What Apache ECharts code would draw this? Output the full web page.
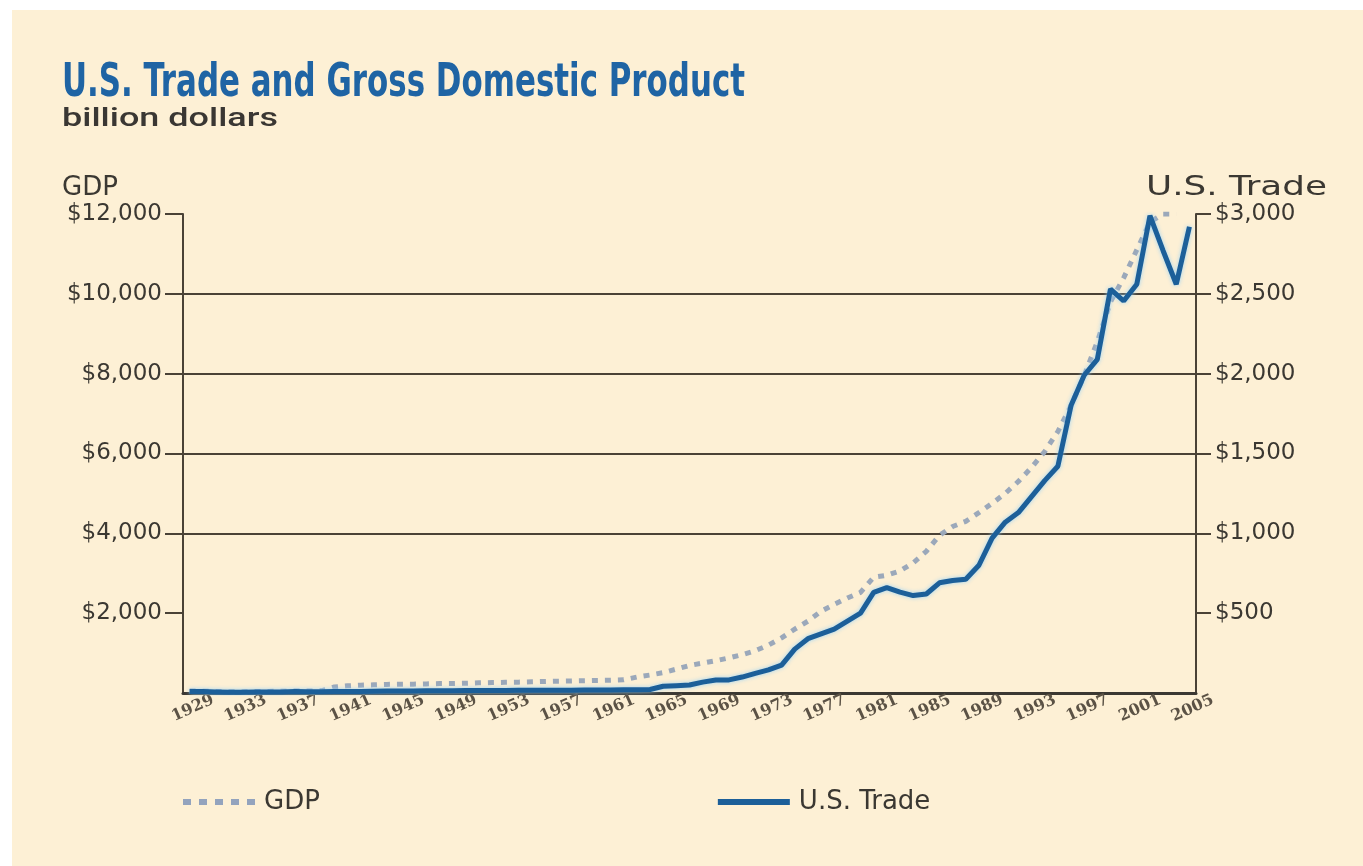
<!DOCTYPE html>
<html>
<head>
<meta charset="utf-8">
<script src="https://cdn.jsdelivr.net/npm/echarts@6/dist/echarts.min.js"></script>
<style>
html,body{margin:0;padding:0;background:#fff;}
#chart{width:1363px;height:866px;
background:linear-gradient(#fff,#fff) top left/100% 10px no-repeat,linear-gradient(#fff,#fff) top left/12px 100% no-repeat,#fdf0d5;}
</style>
</head>
<body>
<div id="chart"></div>
<script>
const years = ['1929','1930','1931','1932','1933','1934','1935','1936','1937','1938','1939',
'1940','1941','1942','1943','1944','1945','1946','1947','1948','1949',
'1950','1951','1952','1953','1954','1955','1956','1957','1958','1959',
'1960','1961','1962','1963','1964','1965','1966','1967','1968','1969',
'1970','1971','1972','1973','1974','1975','1976','1977','1978','1979',
'1980','1981','1982','1983','1984','1985','1986','1987','1988','1989',
'1990','1991','1992','1993','1994','1995','1996','1997','1998','1999',
'2000','2001','2002','2003','2004','2005'];

// GDP, billion dollars (left axis)
const gdp = [50,45,40,35,32,35,40,45,50,48,55,
150,180,195,205,215,220,222,228,235,238,
245,255,262,268,272,280,288,295,300,308,
315,320,330,400,450,510,600,690,750,810,
880,960,1060,1200,1380,1600,1800,2050,2220,2380,
2520,2900,2950,3060,3260,3550,3950,4170,4300,4520,
4750,5000,5300,5650,6050,6550,7200,7950,8800,9800,
10400,11100,11800,12000,12000,null];

// U.S. Trade, billion dollars (right axis)
const trade = [10,9,7,5,5,6,7,7,9,8,8,
9,10,10,11,12,12,13,14,14,14,
15,16,16,16,17,17,18,18,18,19,
19,19,20,20,22,42,46,50,68,81,
82,100,123,145,175,275,340,370,400,450,
500,630,660,632,610,620,690,705,712,800,
970,1070,1130,1230,1330,1420,1800,1990,2090,2530,
2455,2560,2990,2770,2560,2920];

const gdpTicks = [2000,4000,6000,8000,10000,12000];
const tradeTicks = [500,1000,1500,2000,2500,3000];

const ink = '#3b3832';
const gridInk = '#4a4236';
const money = v => '$' + Number(v).toLocaleString('en-US');

function fitScale(text, font, target){
  const c = document.createElement('canvas').getContext('2d');
  c.font = font;
  return target / c.measureText(text).width;
}
const titleFont = 'bold 46px "DejaVu Sans Condensed", "DejaVu Sans"';
const subFont = '500 25px Roboto, "Liberation Sans"';
const headFont = '26px "DejaVu Sans"';

const chart = echarts.init(document.getElementById('chart'));
chart.setOption({
  backgroundColor: 'transparent',
  animation: false,
  graphic: [
    {type:'text', x:62, y:61, scaleX: fitScale('U.S. Trade and Gross Domestic Product', titleFont, 683),
     style:{text:'U.S. Trade and Gross Domestic Product', font:titleFont, fill:'#1f64a4', verticalAlign:'top'}},
    {type:'text', x:62, y:107, scaleX: fitScale('billion dollars', subFont, 216),
     style:{text:'billion dollars', font:subFont, fill:'#3a3733', verticalAlign:'top'}},
    {type:'text', x:62, y:175, scaleX: fitScale('GDP', headFont, 56),
     style:{text:'GDP', font:headFont, fill:ink, verticalAlign:'top'}},
    {type:'text', x:1146, y:175, scaleX: fitScale('U.S. Trade', headFont, 181),
     style:{text:'U.S. Trade', font:headFont, fill:ink, verticalAlign:'top'}}
  ],
  legend: {
    left: 178, top: 784, itemWidth: 72, itemHeight: 6, itemGap: 398,
    textStyle: {fontSize: 26, fontFamily: 'DejaVu Sans', color: ink, padding: [0,0,0,4]},
    data: [
      {name: 'GDP', icon: 'path://M0,0h8v6h-8zM16,0h8v6h-8zM32,0h8v6h-8zM48,0h8v6h-8zM64,0h8v6h-8z'},
      {name: 'U.S. Trade', icon: 'rect'}
    ]
  },
  grid: {left: 183, right: 167, top: 214, bottom: 173, containLabel: false},
  xAxis: {
    type: 'category', data: years, boundaryGap: true,
    axisLine: {show: true, lineStyle: {color: ink, width: 3}},
    axisTick: {show: false},
    axisLabel: {interval: 3, rotate: 24, align: 'center', verticalAlign: 'top', margin: 8,
      fontFamily: 'DejaVu Serif', fontWeight: 'bold', fontSize: 16, color: '#5b5245'},
    splitLine: {show: false}
  },
  yAxis: [
    {type: 'value', min: 0, max: 12000, interval: 2000, position: 'left',
     axisLine: {show: true, lineStyle: {color: gridInk, width: 2}},
     axisTick: {show: true, length: 18, customValues: gdpTicks, lineStyle: {color: gridInk, width: 2}},
     axisLabel: {customValues: gdpTicks, formatter: money, margin: 21, fontFamily: 'DejaVu Sans', fontSize: 23, color: ink},
     splitLine: {show: true, showMinLine: false, showMaxLine: false, lineStyle: {color: gridInk, width: 2}}
    },
    {type: 'value', min: 0, max: 3000, interval: 500, position: 'right',
     axisLine: {show: true, lineStyle: {color: gridInk, width: 2}},
     axisTick: {show: true, length: 15, customValues: tradeTicks, lineStyle: {color: gridInk, width: 2}},
     axisLabel: {customValues: tradeTicks, formatter: money, margin: 19, fontFamily: 'DejaVu Sans', fontSize: 23, color: ink},
     splitLine: {show: false}
    }
  ],
  series: [
    {name: 'GDP', type: 'line', yAxisIndex: 0, data: gdp, symbol: 'none', z: 2,
     lineStyle: {color: '#9ba8ba', width: 5, type: [6, 7], cap: 'butt'},
     itemStyle: {color: '#93a3bd'}},
    {name: 'U.S. Trade', type: 'line', yAxisIndex: 1, data: trade, symbol: 'none', z: 3,
     lineStyle: {color: '#1c5f99', width: 5, shadowColor: 'rgba(150,210,250,0.9)', shadowBlur: 4},
     itemStyle: {color: '#1c5f99'}}
  ]
});
</script>
</body>
</html>
